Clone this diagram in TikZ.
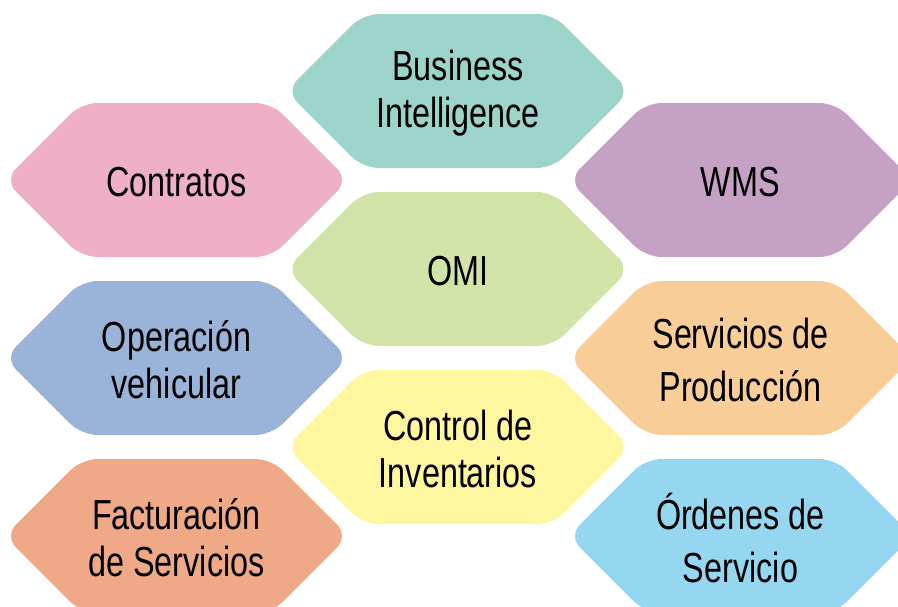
\documentclass[tikz,border=0pt]{standalone}
\usepackage{fontspec}
\setmainfont{Liberation Sans}[FakeStretch=0.77]
\definecolor{cTeal}{HTML}{9DD4C9}
\definecolor{cPink}{HTML}{EFAFC9}
\definecolor{cPurple}{HTML}{C5A1C5}
\definecolor{cGreen}{HTML}{D1E3A7}
\definecolor{cBlue}{HTML}{9AB3D8}
\definecolor{cOrange}{HTML}{F8CD98}
\definecolor{cYellow}{HTML}{FFF7A0}
\definecolor{cSalmon}{HTML}{F0A986}
\definecolor{cSky}{HTML}{95D6F0}
\newcommand{\hexa}[6][]{%
  \fill[#4, rounded corners=16pt] ({#2-172},{#3}) -- ({#2-95},{#3-77}) -- ({#2+95},{#3-77}) -- ({#2+172},{#3}) -- ({#2+95},{#3+77}) -- ({#2-95},{#3+77}) -- cycle;
  \node[label,#1] (#5) at (#2,{#3+2}) {#6};
}
\tikzset{label/.style={align=center, font=\fontsize{42}{47}\selectfont, text=black, inner sep=0pt},
  wide/.style={font=\fontsize{42}{53}\selectfont}}
\begin{document}
\begin{tikzpicture}[x=1pt,y=-1pt]
\clip (0,0) rectangle (898,606);
\fill[white] (0,0) rectangle (898,606);
\hexa{458}{91}{cTeal}{bi}{Business\\Intelligence}
\hexa{176.5}{180}{cPink}{contratos}{Contratos}
\hexa{740.5}{180}{cPurple}{wms}{WMS}
\hexa{458}{269}{cGreen}{omi}{OMI}
\hexa{176.5}{358}{cBlue}{operacion}{Operación\\vehicular}
\hexa[wide]{740.5}{358}{cOrange}{servicios}{Servicios de\\Producción}
\hexa{458}{447}{cYellow}{control}{Control de\\Inventarios}
\hexa{176.5}{536}{cSalmon}{facturacion}{Facturación\\de Servicios}
\hexa[wide]{740.5}{536}{cSky}{ordenes}{Órdenes de\\Servicio}
\end{tikzpicture}
\end{document}
